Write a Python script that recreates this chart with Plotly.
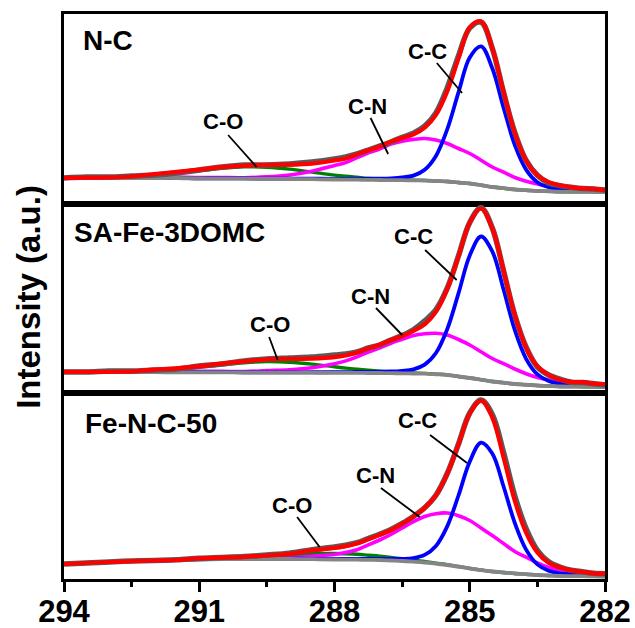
import plotly.graph_objects as go
from plotly.subplots import make_subplots

# Binding energy (eV)
energy = [294, 293.5, 293, 292.5, 292, 291.5, 291, 290.5, 290, 289.5, 289, 288.5, 288,
          287.75, 287.5, 287.25, 287, 286.75, 286.5, 286.25, 286, 285.75, 285.5, 285.25,
          285, 284.75, 284.5, 284.25, 284, 283.75, 283.5, 283.25, 283, 282.75, 282.5, 282.25, 282]

# ---- N-C ----
nc_bg = [26, 26, 26, 26, 26, 26, 25.5, 25.4, 25.3, 25.1, 25, 24.8, 24.5, 24.4, 24.3, 24.1, 24, 23.9, 23.8,
         23.6, 23.5, 23, 22.5, 21.5, 20.5, 18.8, 17, 15.8, 14.5, 13.8, 13, 12.7, 12.3, 12.2, 12.1, 12.05, 12]
nc_co = [0, 0.2, 0.5, 1.3, 2.7, 4.9, 7.7, 10.3, 11.9, 11.7, 9.9, 7.1, 4.4, 3.3, 2.4, 1.6, 1.1, 0.7, 0.4,
         0.2, 0.1, 0, 0, 0, 0, 0, 0, 0, 0, 0, 0, 0, 0, 0, 0, 0, 0]
nc_cn = [0, 0, 0, 0, 1, 1, 1, 1, 1, 2, 4, 8, 14, 17, 22, 27, 31, 36, 39,
         41, 42, 41, 38, 34, 30, 25, 20, 16, 12, 9, 7, 5, 4, 3, 2, 2, 1]
nc_cc = [0.1, 0.1, 0.1, 0.2, 0.2, 0.2, 0.2, 0.2, 0.25, 0.3, 0.4, 0.5, 0.7, 0.8, 0.95, 1.1, 1.4, 1.8, 2.7,
         4.8, 10.8, 25.1, 52.1, 90.1, 126, 138.8, 118.7, 80.5, 44.4, 20.6, 8.8, 4.1, 2.4, 1.7, 1.4, 1.1, 0.9]
nc_raw = [26, 27, 27, 28, 29, 31, 34, 37, 39, 39, 40, 42, 45, 47, 50, 54, 58, 62, 66.7,
          70.8, 77.8, 91.1, 116.1, 148.1, 176, 181.8, 155.7, 111.5, 71.4, 43.6, 28.8, 21.1, 18.4, 16.7, 15.4, 15.1, 13.9]

# ---- SA-Fe-3DOMC ----
sa_bg = [21, 20.9, 20.9, 20.8, 20.8, 20.7, 20.6, 20.6, 20.5, 20.4, 20.3, 20.3, 20.2, 20.1, 20.1, 20, 20, 19.8, 19.7,
         19.5, 19.3, 18.7, 18, 16.5, 15, 13.3, 11.5, 10.3, 9, 8.3, 7.5, 7, 6.5, 6.4, 6.3, 6.1, 6]
sa_co = [0, 0.1, 0.2, 0.6, 1.4, 2.8, 5, 7.6, 9.8, 11, 10.5, 8.6, 6, 4.8, 3.6, 2.7, 1.9, 1.3, 0.8,
         0.5, 0.3, 0.2, 0.1, 0, 0, 0, 0, 0, 0, 0, 0, 0, 0, 0, 0, 0, 0]
sa_cn = [0, 0, 0, 0, 1, 1, 1, 1, 1, 2, 3, 5, 9, 12, 16, 21, 25, 30, 34,
         38, 40, 41, 40, 37, 33, 28, 23, 19, 15, 11, 8, 6, 4, 3, 3, 2, 2]
sa_cc = [0.1, 0.1, 0.1, 0.2, 0.2, 0.2, 0.2, 0.2, 0.25, 0.3, 0.35, 0.45, 0.6, 0.75, 0.9, 1.05, 1.3, 1.7, 2.5,
         4.2, 9.1, 21.3, 45.8, 83.1, 122.5, 143.2, 130.1, 93.1, 53.8, 25.9, 11.1, 5, 2.8, 1.8, 1.5, 1.2, 1]
sa_raw = [21, 21, 22, 22, 23, 24, 27, 29, 32, 34, 35, 36, 38, 39, 41, 45, 48, 53, 57.5,
          63.2, 72.1, 83.3, 104.8, 137.1, 170.5, 185.2, 165.1, 122.1, 77.8, 45.9, 26.1, 18, 13.8, 10.8, 10.5, 9.2, 8]

# ---- Fe-N-C-50 ----
fe_bg = [15, 16, 17, 17.8, 18.5, 19, 19.5, 19.8, 20, 20, 20, 19.8, 19.5, 19.4, 19.3, 19.1, 19, 18.5, 18,
         17.3, 16.5, 15.3, 14, 12.3, 10.5, 9, 7.5, 6.5, 5.5, 4.8, 4, 3.5, 3, 2.9, 2.8, 2.6, 2.5]
fe_co = [0, 0, 0, 0, 0, 0, 0.1, 0.4, 1, 2.2, 3.9, 5.4, 6, 5.8, 5.4, 4.7, 3.9, 3, 2.2,
         1.5, 1, 0.6, 0.4, 0.2, 0.1, 0, 0, 0, 0, 0, 0, 0, 0, 0, 0, 0, 0]
fe_cn = [0, 0, 0, 0, 0, 0, 1, 1, 1, 1, 1, 3, 5, 7, 10, 15, 20, 26, 33,
         40, 46, 50, 52, 51, 48, 42, 36, 29, 22, 17, 12, 8, 6, 4, 3, 2, 2]
fe_cc = [0, 0, 0, 0, 0, 0, 0.1, 0.2, 0.2, 0.3, 0.3, 0.4, 0.6, 0.7, 0.8, 1, 1.2, 1.5, 2.1,
         3.6, 7.6, 17.7, 38.6, 71.2, 106.9, 127.4, 118, 86, 50.5, 24.6, 10.6, 4.7, 2.5, 1.7, 1.3, 1, 0.8]
fe_raw = [15, 16, 17, 18, 18.6, 19.2, 20.8, 21.6, 22.5, 24, 25.8, 29.3, 32, 33.8, 36.3, 40.5, 44.7, 49.5, 55.6,
          62.6, 71.3, 83.8, 105.5, 135, 166, 179, 164.5, 126.5, 83, 50.4, 28.6, 17.2, 12, 8.8, 7.2, 5.7, 5.3]

sample_names = ["N-C", "SA-Fe-3DOMC", "Fe-N-C-50"]
peak_names = ["C-C", "C-N", "C-O"]
x_ticks = [294, 291, 288, 285, 282]
x_minor = [292.5, 289.5, 286.5, 283.5]

data = [
    (nc_bg, nc_co, nc_cn, nc_cc, nc_raw),
    (sa_bg, sa_co, sa_cn, sa_cc, sa_raw),
    (fe_bg, fe_co, fe_cn, fe_cc, fe_raw),
]
heights = [190, 189, 186]

fig = make_subplots(rows=3, cols=1, vertical_spacing=0)
tot = sum(heights)
doms = [[(heights[1] + heights[2]) / tot, 1], [heights[2] / tot, (heights[1] + heights[2]) / tot], [0, heights[2] / tot]]

for i, (bg, co, cn, cc, raw) in enumerate(data):
    r = i + 1
    g = [b + v for b, v in zip(bg, co)]
    m = [b + v for b, v in zip(bg, cn)]
    bl = [b + v for b, v in zip(bg, cc)]
    fit = [b + a + c + d for b, a, c, d in zip(bg, co, cn, cc)]
    for y, col, w in [(g, "#008000", 3.4), (m, "#ff00ff", 3.6), (bl, "#0000ff", 3.8),
                      (bg, "#858585", 3.8), (raw, "#5a5a5a", 5.5), (fit, "#ff0000", 4.2)]:
        fig.add_trace(go.Scatter(x=energy, y=y, mode="lines", line=dict(color=col, width=w, shape="spline", smoothing=1),
                                 showlegend=False, hoverinfo="skip"), row=r, col=1)
    fig.update_yaxes(range=[0, heights[i]], domain=doms[i], row=r, col=1)

axfont = "Liberation Sans, Arial, sans-serif"
fig.update_xaxes(range=[294, 282], showline=True, mirror=True, linewidth=3, linecolor="black",
                 showgrid=False, zeroline=False, ticks="", showticklabels=False, automargin=False)
fig.update_yaxes(showline=True, mirror=True, linewidth=3, linecolor="black", showgrid=False,
                 zeroline=False, ticks="", showticklabels=False, automargin=False)
fig.update_xaxes(row=3, col=1, ticks="outside", ticklen=10, tickwidth=3, tickcolor="black",
                 tickvals=x_ticks, ticktext=[str(t) for t in x_ticks], showticklabels=True,
                 ticklabelstandoff=-7,
                 tickfont=dict(family=axfont, size=31, color="black", weight="bold"),
                 minor=dict(tickvals=x_minor, ticks="outside", ticklen=5, tickwidth=3, tickcolor="black"))

name_pos = [(293.62, 164), (293.82, 160), (293.58, 156)]
peak_pos = [
    [(285.93, 152.5), (287.26, 98), (290.47, 82.5)],
    [(286.24, 156.5), (287.21, 96.5), (289.42, 68.5)],
    [(286.17, 158.5), (287.08, 104), (288.95, 74)],
]
pointers = [
    [(285.73, 141, 285.17, 111), (287.20, 86, 286.81, 50), (290.36, 69, 289.73, 37)],
    [(285.99, 143, 285.29, 113), (287.08, 85, 286.50, 58), (289.45, 56, 289.26, 33)],
    [(285.88, 144, 285.06, 116), (286.97, 91, 286.11, 62), (288.83, 62, 288.33, 32)],
]
for i in range(3):
    xr = "x" if i == 0 else f"x{i+1}"
    yr = "y" if i == 0 else f"y{i+1}"
    fig.add_annotation(x=name_pos[i][0], y=name_pos[i][1], xref=xr, yref=yr, text=f"<b>{sample_names[i]}</b>",
                       showarrow=False, xanchor="left", font=dict(family=axfont, size=28, color="black"))
    for j, pn in enumerate(peak_names):
        fig.add_annotation(x=peak_pos[i][j][0], y=peak_pos[i][j][1], xref=xr, yref=yr, text=f"<b>{pn}</b>",
                           showarrow=False, xanchor="center", font=dict(family=axfont, size=22, color="black"))
    for x0, y0, x1, y1 in pointers[i]:
        fig.add_shape(type="line", x0=x0, y0=y0, x1=x1, y1=y1, xref=xr, yref=yr, line=dict(color="black", width=1.8))

fig.add_annotation(x=-0.066, y=0.5, xref="paper", yref="paper", text="<b>Intensity (a.u.)</b>", textangle=-90,
                   xanchor="center", yanchor="middle", showarrow=False,
                   font=dict(family=axfont, size=33, color="black"))

fig.update_layout(width=635, height=628, margin=dict(l=64, r=30, t=14, b=49), plot_bgcolor="white", paper_bgcolor="white")
fig.write_html("out.html")
